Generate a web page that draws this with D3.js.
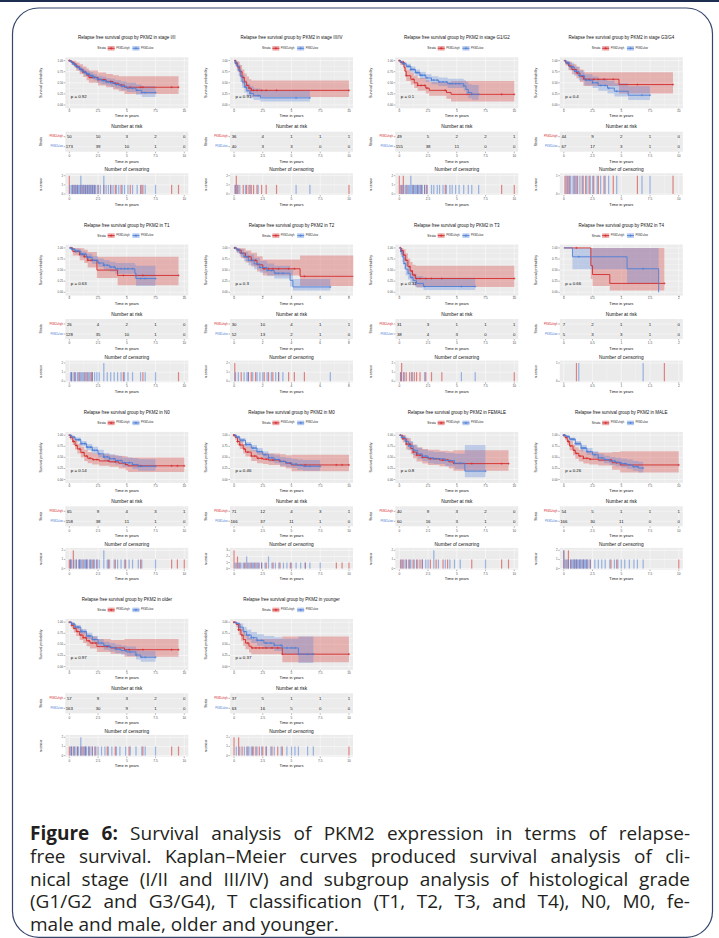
<!DOCTYPE html>
<html><head><meta charset="utf-8">
<script src="https://cdn.jsdelivr.net/npm/d3@7/dist/d3.min.js"></script>
<style>body{margin:0;background:#fff}svg{display:block}</style>
</head><body><svg id="c" width="719" height="938"></svg>
<script>
const titles = [
  "Relapse free survival group by PKM2 in stage I/II",
  "Relapse free survival group by PKM2 in stage III/IV",
  "Relapse free survival group by PKM2 in stage G1/G2",
  "Relapse free survival group by PKM2 in stage G3/G4",
  "Relapse free survival group by PKM2 in T1",
  "Relapse free survival group by PKM2 in T2",
  "Relapse free survival group by PKM2 in T3",
  "Relapse free survival group by PKM2 in T4",
  "Relapse free survival group by PKM2 in N0",
  "Relapse free survival group by PKM2 in M0",
  "Relapse free survival group by PKM2 in FEMALE",
  "Relapse free survival group by PKM2 in MALE",
  "Relapse free survival group by PKM2 in older",
  "Relapse free survival group by PKM2 in younger"
];
const strataLabels = ["PKM2=high", "PKM2=low"];
const pValues = ["0.92","0.91","0.1","0.4","0.63","0.3","0.31","0.66","0.14","0.46","0.8","0.26","0.97","0.37"];
const T10 = [0, 2.5, 5, 7.5, 10];
const xTicks = [T10, T10, T10, T10, T10, [0,2,4,6,8], T10, [0,0.5,1,1.5,2], T10, T10, T10, T10, T10, T10];
const riskHigh = [[50,10,3,2,0],[36,4,1,1,1],[49,5,2,2,1],[44,9,2,1,0],[26,4,2,1,0],[30,10,4,1,1],[31,3,1,1,1],[7,2,1,1,0],[65,9,4,3,1],[71,12,4,3,1],[40,9,3,2,0],[54,5,1,1,1],[57,9,3,2,0],[37,5,1,1,1]];
const riskLow  = [[173,39,10,1,0],[40,3,3,0,0],[155,38,11,0,0],[67,17,3,1,0],[128,35,10,1,0],[52,13,2,1,0],[38,4,3,0,0],[5,3,3,1,0],[158,38,11,1,0],[166,37,11,1,0],[60,16,3,1,0],[166,30,11,0,0],[163,30,9,1,0],[63,16,5,0,0]];
const censorMax = [2,2,2,1,2,2,2,1,2,3,2,2,2,2];
const highEnd = [9.5,10,10,9.5,9.5,8.3,10,1.75,10,10,9.5,10,9.5,10];
const lowEnd  = [7.5,6.6,6.9,7.5,7.5,6.7,6.6,1.65,7.5,7.5,7.5,6.9,7.5,6.9];
// steps: [time, survival, lower CI, upper CI]
const highSteps = [
  [[0,1,1,1],[0.2,0.96,0.9,1],[0.4,0.92,0.85,1],[0.6,0.86,0.77,0.96],[0.9,0.8,0.7,0.92],[1.2,0.74,0.63,0.87],[1.5,0.68,0.56,0.82],[1.7,0.62,0.5,0.78],[2.5,0.57,0.44,0.73],[3.2,0.53,0.4,0.7],[3.8,0.49,0.35,0.67],[4.3,0.45,0.31,0.65],[4.8,0.4,0.25,0.65]],
  [[0,1,1,1],[0.15,0.94,0.87,1],[0.3,0.86,0.75,0.98],[0.5,0.75,0.62,0.9],[0.7,0.62,0.48,0.8],[0.9,0.52,0.38,0.71],[1.1,0.44,0.3,0.64],[1.3,0.38,0.24,0.58],[1.5,0.33,0.18,0.55]],
  [[0,1,1,1],[0.1,0.96,0.9,1],[0.4,0.85,0.76,0.96],[0.5,0.76,0.65,0.89],[0.6,0.66,0.54,0.8],[1.0,0.58,0.46,0.73],[1.3,0.5,0.38,0.66],[1.6,0.44,0.32,0.61],[2.3,0.38,0.26,0.56],[2.6,0.33,0.21,0.52],[4.1,0.28,0.14,0.52],[4.5,0.24,0.08,0.54]],
  [[0,1,1,1],[0.15,0.95,0.89,1],[0.4,0.88,0.79,0.98],[0.7,0.8,0.69,0.92],[1.1,0.72,0.6,0.86],[1.4,0.65,0.52,0.8],[1.7,0.58,0.43,0.74],[4.8,0.46,0.26,0.74]],
  [[0,1,1,1],[0.3,0.92,0.83,1],[0.9,0.85,0.72,0.99],[1.3,0.8,0.66,0.96],[1.6,0.72,0.56,0.91],[2.4,0.5,0.32,0.8],[4.2,0.38,0.16,0.8]],
  [[0,1,1,1],[0.2,0.95,0.88,1],[0.5,0.88,0.77,0.99],[0.8,0.8,0.67,0.94],[1.2,0.72,0.58,0.89],[1.6,0.62,0.47,0.81],[2.0,0.53,0.38,0.74],[4.6,0.36,0.14,0.83]],
  [[0,1,1,1],[0.15,0.94,0.86,1],[0.35,0.84,0.72,0.97],[0.55,0.72,0.58,0.88],[0.75,0.58,0.43,0.76],[0.95,0.48,0.33,0.68],[1.15,0.39,0.25,0.62],[1.4,0.31,0.12,0.6]],
  [[0,1,1,1],[0.47,0.6,0.3,1],[0.5,0.4,0.14,1],[0.8,0.2,0.04,1]],
  [[0,1,1,1],[0.1,0.95,0.9,1],[0.3,0.86,0.78,0.95],[0.5,0.77,0.68,0.88],[0.7,0.69,0.59,0.81],[1.0,0.61,0.5,0.74],[1.3,0.53,0.42,0.67],[1.6,0.48,0.37,0.62],[2.0,0.45,0.34,0.59],[2.6,0.42,0.31,0.57],[3.5,0.4,0.29,0.55],[4.3,0.37,0.25,0.53],[4.9,0.34,0.21,0.52],[5.1,0.31,0.17,0.5]],
  [[0,1,1,1],[0.1,0.95,0.9,1],[0.3,0.86,0.78,0.94],[0.5,0.78,0.69,0.88],[0.8,0.69,0.59,0.8],[1.0,0.62,0.52,0.74],[1.5,0.53,0.42,0.66],[2.0,0.48,0.37,0.62],[2.5,0.46,0.35,0.6],[3.0,0.44,0.33,0.59],[4.0,0.41,0.29,0.57],[4.5,0.37,0.25,0.55],[5.0,0.33,0.19,0.56]],
  [[0,1,1,1],[0.3,0.92,0.84,1],[0.6,0.8,0.68,0.93],[1.0,0.7,0.57,0.85],[1.2,0.62,0.48,0.79],[1.5,0.55,0.41,0.73],[2.0,0.5,0.36,0.69],[2.5,0.47,0.33,0.67],[3.5,0.44,0.3,0.65],[4.3,0.4,0.25,0.64],[4.7,0.36,0.2,0.66]],
  [[0,1,1,1],[0.1,0.95,0.9,1],[0.3,0.86,0.78,0.95],[0.5,0.76,0.66,0.87],[0.8,0.66,0.55,0.79],[1.0,0.59,0.47,0.73],[1.3,0.53,0.41,0.68],[1.7,0.48,0.36,0.64],[2.2,0.46,0.34,0.62],[3.0,0.44,0.32,0.61],[4.2,0.38,0.22,0.62],[4.9,0.33,0.16,0.64]],
  [[0,1,1,1],[0.2,0.93,0.87,1],[0.4,0.86,0.77,0.95],[0.6,0.79,0.69,0.9],[0.9,0.71,0.6,0.84],[1.2,0.65,0.53,0.78],[1.5,0.58,0.46,0.72],[1.8,0.53,0.41,0.68],[2.4,0.45,0.33,0.62],[3.6,0.42,0.29,0.6],[4.8,0.38,0.22,0.62]],
  [[0,1,1,1],[0.2,0.95,0.88,1],[0.4,0.83,0.72,0.96],[0.6,0.71,0.58,0.86],[0.8,0.61,0.47,0.78],[1.0,0.53,0.39,0.71],[1.3,0.46,0.32,0.65],[1.5,0.42,0.28,0.62],[4.2,0.28,0.1,0.68]]
];
const lowSteps = [
  [[0,1,1,1],[0.1,0.97,0.95,1],[0.3,0.93,0.89,0.97],[0.5,0.89,0.84,0.94],[0.7,0.85,0.8,0.9],[0.9,0.81,0.75,0.87],[1.1,0.77,0.71,0.84],[1.3,0.73,0.66,0.8],[1.5,0.7,0.63,0.77],[1.8,0.66,0.59,0.74],[2.1,0.62,0.55,0.7],[2.4,0.58,0.5,0.66],[2.8,0.55,0.47,0.64],[3.2,0.52,0.44,0.61],[3.6,0.5,0.41,0.59],[4.0,0.46,0.37,0.56],[4.5,0.42,0.33,0.53],[5.0,0.38,0.29,0.5],[5.8,0.33,0.23,0.46],[6.3,0.28,0.18,0.43]],
  [[0,1,1,1],[0.1,0.95,0.88,1],[0.25,0.88,0.78,0.98],[0.4,0.78,0.66,0.91],[0.55,0.65,0.52,0.8],[0.7,0.52,0.39,0.68],[0.9,0.4,0.28,0.56],[1.1,0.32,0.2,0.48],[1.4,0.26,0.15,0.42],[1.7,0.21,0.11,0.37],[2.3,0.16,0.08,0.33]],
  [[0,1,1,1],[0.1,0.97,0.94,1],[0.3,0.93,0.89,0.97],[0.6,0.87,0.82,0.93],[1.0,0.8,0.74,0.87],[1.4,0.73,0.66,0.8],[1.8,0.67,0.59,0.75],[2.3,0.61,0.52,0.69],[2.8,0.56,0.47,0.65],[3.4,0.52,0.43,0.62],[4.2,0.48,0.38,0.59],[5.6,0.43,0.32,0.56],[5.8,0.35,0.22,0.52],[6.0,0.28,0.15,0.47],[6.3,0.24,0.12,0.45]],
  [[0,1,1,1],[0.2,0.95,0.9,1],[0.5,0.86,0.78,0.95],[0.9,0.76,0.66,0.87],[1.3,0.66,0.55,0.78],[1.8,0.56,0.44,0.69],[2.5,0.5,0.38,0.64],[3.0,0.44,0.32,0.59],[3.8,0.38,0.26,0.54],[4.4,0.31,0.19,0.49],[5.6,0.22,0.11,0.42]],
  [[0,1,1,1],[0.2,0.97,0.94,1],[0.5,0.93,0.88,0.98],[1.0,0.86,0.8,0.92],[1.5,0.79,0.72,0.87],[2.0,0.72,0.64,0.81],[2.5,0.66,0.57,0.76],[3.0,0.61,0.51,0.72],[3.5,0.57,0.47,0.69],[4.0,0.53,0.42,0.66],[5.7,0.43,0.3,0.62],[5.8,0.31,0.14,0.6]],
  [[0,1,1,1],[0.15,0.96,0.91,1],[0.4,0.88,0.8,0.97],[0.7,0.8,0.7,0.91],[1.0,0.72,0.61,0.85],[1.4,0.64,0.52,0.78],[1.8,0.56,0.44,0.71],[2.3,0.49,0.37,0.65],[2.8,0.43,0.31,0.6],[3.9,0.27,0.13,0.52],[4.1,0.12,0.04,0.3]],
  [[0,1,1,1],[0.1,0.92,0.84,1],[0.25,0.8,0.68,0.93],[0.4,0.65,0.52,0.8],[0.55,0.52,0.38,0.68],[0.75,0.42,0.29,0.58],[0.95,0.33,0.21,0.49],[1.2,0.26,0.15,0.42],[1.5,0.2,0.1,0.36],[2.1,0.13,0.05,0.33]],
  [[0,1,1,1],[0.15,0.8,0.52,1],[1.1,0.53,0.2,1],[1.65,0,0,0]],
  [[0,1,1,1],[0.2,0.96,0.93,0.99],[0.5,0.9,0.86,0.95],[1.0,0.81,0.75,0.87],[1.5,0.73,0.66,0.8],[2.0,0.66,0.58,0.74],[2.5,0.58,0.5,0.67],[3.0,0.51,0.42,0.6],[3.5,0.47,0.38,0.57],[4.0,0.43,0.34,0.54],[4.6,0.38,0.29,0.5],[5.5,0.34,0.24,0.48],[6.0,0.3,0.2,0.46]],
  [[0,1,1,1],[0.2,0.96,0.93,0.99],[0.5,0.89,0.84,0.94],[1.0,0.79,0.73,0.85],[1.5,0.71,0.64,0.78],[2.0,0.63,0.56,0.71],[2.5,0.56,0.48,0.64],[3.0,0.49,0.41,0.58],[3.5,0.45,0.37,0.55],[4.0,0.41,0.32,0.51],[4.5,0.38,0.29,0.49],[5.0,0.35,0.26,0.47],[5.5,0.32,0.22,0.45],[6.0,0.3,0.2,0.44]],
  [[0,1,1,1],[0.2,0.95,0.9,1],[0.5,0.86,0.78,0.95],[0.8,0.76,0.66,0.87],[1.2,0.66,0.55,0.78],[1.6,0.58,0.47,0.71],[2.0,0.53,0.42,0.67],[2.5,0.49,0.37,0.64],[3.0,0.47,0.35,0.62],[4.0,0.43,0.3,0.6],[4.8,0.37,0.24,0.58],[5.7,0.19,0.05,0.78]],
  [[0,1,1,1],[0.2,0.97,0.94,1],[0.5,0.91,0.87,0.95],[1.0,0.81,0.75,0.87],[1.5,0.71,0.64,0.78],[2.0,0.63,0.56,0.71],[2.5,0.56,0.48,0.64],[3.0,0.49,0.41,0.58],[3.5,0.45,0.37,0.54],[4.0,0.42,0.33,0.51],[4.5,0.39,0.3,0.49],[5.0,0.36,0.27,0.47],[5.5,0.33,0.24,0.45],[6.0,0.29,0.2,0.42],[6.5,0.26,0.16,0.4]],
  [[0,1,1,1],[0.2,0.96,0.93,0.99],[0.5,0.89,0.84,0.94],[1.0,0.79,0.73,0.85],[1.5,0.69,0.62,0.76],[2.0,0.61,0.53,0.69],[2.5,0.53,0.45,0.62],[3.0,0.47,0.38,0.56],[3.5,0.43,0.34,0.53],[4.0,0.39,0.3,0.5],[4.5,0.36,0.27,0.47],[5.0,0.33,0.24,0.45],[5.8,0.26,0.16,0.39],[6.2,0.21,0.11,0.35]],
  [[0,1,1,1],[0.2,0.97,0.93,1],[0.5,0.89,0.81,0.97],[0.8,0.79,0.69,0.89],[1.1,0.71,0.6,0.83],[1.5,0.65,0.53,0.78],[2.0,0.59,0.47,0.73],[2.6,0.53,0.4,0.69],[3.5,0.48,0.35,0.66],[4.2,0.42,0.28,0.63],[5.6,0.28,0.08,0.68]]
];
const highCensor = [
  [0,0,0.3,0.5,0.7,1.0,1.2,1.4,1.6,1.8,2.0,2.2,2.5,3.0,3.6,4.0,4.5,5.3,6.2,6.4,8.9,9.5],
  [0.1,0.2,0.2,0.35,0.8,1.1,1.3,1.5,1.7,2.0,2.4,2.8,3.7,10],
  [0,0,0.2,0.35,0.35,0.6,1.2,1.6,1.9,2.2,2.4,4.0,8.9,10],
  [0.1,0.3,0.5,0.9,1.2,1.6,1.9,2.2,2.6,3.0,3.5,4.3,6.4,9.5],
  [0.2,0.5,0.9,1.3,1.6,1.9,2.0,4.7,6.4,9.5],
  [0.05,0.05,0.5,1.0,1.2,1.5,2.1,2.4,2.7,3.1,3.8,4.2,4.9],
  [0.1,0.2,0.2,0.4,0.6,0.9,1.1,1.3,1.5,1.8,2.3,2.8,3.7,10],
  [0.22,1.75],
  [0,0.1,0.35,0.35,0.6,0.9,1.2,1.5,1.8,2.1,2.4,3.4,4.0,4.9,6.2,8.9,9.4,10],
  [0,0,0,0.3,0.3,0.5,0.9,1.2,1.5,1.8,2.1,2.4,2.8,3.4,4.0,4.9,6.2,8.9,9.4,10],
  [0.1,0.3,0.6,0.9,1.2,1.5,1.8,2.0,2.7,3.2,3.8,4.2,6.3,8.9,9.5],
  [0,0,0.2,0.4,0.4,0.6,0.9,1.1,1.4,1.7,2.0,2.3,4.1,4.6,10],
  [0,0.2,0.4,0.7,1.0,1.2,1.4,1.7,2.0,2.3,3.3,4.0,5.2,6.4,8.9,9.5],
  [0,0,0.4,0.4,0.7,1.2,1.6,1.9,2.2,2.5,2.8,3.3,3.8,4.2,10]
];
const lowCensor = [
  [0.05,0.2,0.3,0.4,0.5,0.6,0.7,0.8,0.9,1.0,1.0,1.1,1.2,1.3,1.4,1.5,1.6,1.7,1.8,1.9,2.0,2.1,2.2,2.3,2.5,2.7,3.0,3.0,3.2,3.4,3.6,3.8,4.1,4.3,4.6,4.8,5.1,5.5,5.9,6.3,6.6,7.5],
  [0.1,0.3,0.5,1.0,1.4,2.1,5.4,6.6],
  [0.1,0.3,0.5,0.7,0.8,0.9,1.0,1.0,1.1,1.2,1.3,1.4,1.5,1.6,1.7,1.8,1.9,2.0,2.2,2.4,2.8,3.0,3.3,3.5,3.8,4.1,4.4,4.6,4.9,5.2,5.6,6.0,6.3,6.9],
  [0.2,0.4,0.6,0.8,1.0,1.1,1.4,1.7,2.0,2.3,2.5,2.9,3.2,3.6,3.9,4.6,6.8,7.5],
  [0.1,0.2,0.4,0.5,0.7,0.8,1.0,1.1,1.2,1.4,1.5,1.7,1.8,2.0,2.2,2.4,2.6,3.0,3.0,3.3,3.6,3.9,4.2,4.5,4.8,5.1,5.5,6.2,6.6,7.5],
  [0.1,0.3,0.7,0.9,1.0,1.3,1.6,1.8,2.0,2.3,2.6,2.9,3.1,3.4,6.7],
  [0.15,0.4,1.1,2.2,5.4,6.6],
  [0.26,1.38],
  [0.1,0.2,0.4,0.6,0.8,0.9,1.0,1.1,1.3,1.4,1.5,1.6,1.8,1.9,2.0,2.2,2.4,2.6,3.0,3.0,3.3,3.5,3.9,4.2,4.5,4.8,5.2,5.5,6.0,6.3,7.5],
  [0.1,0.2,0.4,0.6,0.8,1.0,1.1,1.1,1.3,1.4,1.6,1.7,1.9,2.0,2.2,2.4,2.7,3.0,3.0,3.3,3.6,3.9,4.3,4.6,5.0,5.4,5.8,6.2,6.6,7.5],
  [0.2,0.4,0.6,0.8,1.0,1.3,1.6,2.0,2.3,2.5,3.0,3.0,3.4,4.0,4.4,4.8,5.3,7.5],
  [0,0,0.1,0.3,0.4,0.6,0.7,0.8,0.9,1.0,1.1,1.2,1.3,1.4,1.5,1.6,1.7,1.8,1.9,2.0,2.1,2.3,2.7,3.0,3.3,3.6,4.0,4.4,4.7,5.0,5.3,5.7,6.1,6.4,6.9],
  [0.1,0.2,0.4,0.5,0.7,0.8,1.0,1.0,1.1,1.3,1.4,1.5,1.7,1.8,2.0,2.2,2.5,2.8,3.1,3.4,3.7,4.1,4.4,4.9,5.3,5.8,6.3,6.6,7.5],
  [0.2,0.5,0.9,1.1,1.3,1.5,1.7,2.0,2.4,2.8,3.2,3.5,4.1,4.6,5.0,5.3,5.6,6.4,6.9]
];
const captionLines = [
  "Figure 6: Survival analysis of PKM2 expression in terms of relapse-",
  "free survival. Kaplan–Meier curves produced survival analysis of cli-",
  "nical stage (I/II and III/IV) and subgroup analysis of histological grade",
  "(G1/G2 and G3/G4), T classification (T1, T2, T3, and T4), N0, M0, fe-",
  "male and male, older and younger."
];

const RED = "#D42A2A", BLUE = "#4F7FD8", PANEL = "#EBEBEB", FONT = "'Liberation Sans', Arial, sans-serif";
const colLeft = [65.3, 230, 395.3, 559.8], rowTop = [37.7, 225, 412.3, 599.3], PW = 123;

const svg = d3.select("#c");
svg.append("rect").attr("width", 719).attr("height", 938).attr("fill", "#fff");
svg.append("rect").attr("x", 0).attr("y", 0).attr("width", 719).attr("height", 2).attr("fill", "#1d2d50");
svg.append("rect").attr("x", 12.5).attr("y", 8).attr("width", 700).attr("height", 929.3).attr("rx", 26)
  .attr("fill", "none").attr("stroke", "#34466b").attr("stroke-width", 1.2);

function txt(g, x, y, s, size, anchor, fill, rot) {
  const t = g.append("text").attr("x", x).attr("y", y).attr("font-family", FONT)
    .attr("font-size", size).attr("text-anchor", anchor || "middle").attr("fill", fill || "#000")
    .attr("dominant-baseline", "central").text(s);
  if (rot) t.attr("transform", `rotate(-90,${x},${y})`);
  return t;
}
function stepAt(steps, t) { let s = steps[0]; for (const st of steps) if (st[0] <= t) s = st; return s; }

titles.forEach((title, i) => {
  const L = colLeft[i % 4], T = rowTop[Math.floor(i / 4)], R = L + PW, cx = (L + R) / 2;
  const ticks = xTicks[i];
  const span = ticks[ticks.length - 1] - ticks[0], pad = span * 0.035;
  const x = d3.scaleLinear().domain([ticks[0] - pad, ticks[ticks.length - 1] + pad]).range([L, R]);
  const g = svg.append("g");
  const fmt = v => String(v);
  const minors = ticks.slice(1).map((v, k) => (v + ticks[k]) / 2);

  txt(g, cx, T, title, 4.5, "middle", "#111");
  const lg = g.append("g");
  let p = txt(lg, 0, 0, "Strata", 3.2, "start", "#222").node().getComputedTextLength() + 1.8;
  [[RED, strataLabels[0]], [BLUE, strataLabels[1]]].forEach(([c, lab]) => {
    lg.append("rect").attr("x", p).attr("y", -2.3).attr("width", 7).attr("height", 4.6).attr("fill", c).attr("fill-opacity", 0.4);
    lg.append("line").attr("x1", p).attr("x2", p + 7).attr("y1", 0).attr("y2", 0).attr("stroke", c).attr("stroke-width", 0.9);
    lg.append("path").attr("d", `M${p + 2.3},0h2.4M${p + 3.5},-1.2v2.4`).attr("stroke", c).attr("stroke-width", 0.7);
    p += 8.5;
    p += txt(lg, p, 0, lab, 2.6, "start", "#333").node().getComputedTextLength() + 2.8;
  });
  lg.attr("transform", `translate(${cx - p / 2},${T + 10.6})`);

  // ---- survival plot ----
  const top = T + 19.6, bot = T + 70.6;
  const y = d3.scaleLinear().domain([-0.075, 1.075]).range([bot, top]);
  g.append("rect").attr("x", L).attr("y", top).attr("width", PW).attr("height", bot - top).attr("fill", PANEL);
  [0.125, 0.375, 0.625, 0.875].forEach(v => g.append("line").attr("x1", L).attr("x2", R).attr("y1", y(v)).attr("y2", y(v)).attr("stroke", "#fff").attr("stroke-width", 0.25));
  minors.forEach(v => g.append("line").attr("x1", x(v)).attr("x2", x(v)).attr("y1", top).attr("y2", bot).attr("stroke", "#fff").attr("stroke-width", 0.25));
  [0, 0.25, 0.5, 0.75, 1].forEach(v => {
    g.append("line").attr("x1", L).attr("x2", R).attr("y1", y(v)).attr("y2", y(v)).attr("stroke", "#fff").attr("stroke-width", 0.5);
    g.append("line").attr("x1", L - 1.6).attr("x2", L).attr("y1", y(v)).attr("y2", y(v)).attr("stroke", "#444").attr("stroke-width", 0.4);
    txt(g, L - 2.3, y(v), v.toFixed(2), 2.8, "end", "#4d4d4d");
  });
  ticks.forEach(v => {
    g.append("line").attr("x1", x(v)).attr("x2", x(v)).attr("y1", top).attr("y2", bot).attr("stroke", "#fff").attr("stroke-width", 0.5);
    g.append("line").attr("x1", x(v)).attr("x2", x(v)).attr("y1", bot).attr("y2", bot + 1.5).attr("stroke", "#444").attr("stroke-width", 0.4);
    txt(g, x(v), T + 73.4, fmt(v), 3.2, "middle", "#4d4d4d");
  });
  txt(g, cx, T + 78.2, "Time in years", 4.0, "middle", "#111");
  txt(g, L - 24, (top + bot) / 2, "Survival probability", 3.6, "middle", "#111", true);

  const groups = [
    { steps: highSteps[i], end: highEnd[i], cens: highCensor[i], color: RED },
    { steps: lowSteps[i], end: lowEnd[i], cens: lowCensor[i], color: BLUE }
  ];
  groups.forEach(gr => {
    const last = gr.steps[gr.steps.length - 1];
    const pts = gr.steps.concat([[gr.end, last[1], last[2], last[3]]]);
    const area = d3.area().x(d => x(d[0])).y0(d => y(d[2])).y1(d => y(d[3])).curve(d3.curveStepAfter);
    g.append("path").attr("d", area(pts)).attr("fill", gr.color).attr("fill-opacity", 0.3);
  });
  groups.forEach(gr => {
    const last = gr.steps[gr.steps.length - 1];
    const pts = gr.steps.concat([[gr.end, last[1], last[2], last[3]]]);
    const line = d3.line().x(d => x(d[0])).y(d => y(d[1])).curve(d3.curveStepAfter);
    g.append("path").attr("d", line(pts)).attr("fill", "none").attr("stroke", gr.color).attr("stroke-width", 0.9);
    gr.cens.forEach(t => {
      const px = x(t), py = y(stepAt(gr.steps, t)[1]);
      g.append("path").attr("d", `M${px - 1.1},${py}h2.2M${px},${py - 1.1}v2.2`).attr("stroke", gr.color).attr("stroke-width", 0.55);
    });
  });
  txt(g, x(0) + 1.4, y(0.2), "p = " + pValues[i], 4.4, "start", "#111");

  // ---- risk table ----
  txt(g, cx, T + 89, "Number at risk", 4.8, "middle", "#111");
  const rt = T + 94, rb = T + 114;
  g.append("rect").attr("x", L).attr("y", rt).attr("width", PW).attr("height", rb - rt).attr("fill", PANEL);
  ticks.forEach(v => {
    g.append("line").attr("x1", x(v)).attr("x2", x(v)).attr("y1", rt).attr("y2", rb).attr("stroke", "#fff").attr("stroke-width", 0.4);
    g.append("line").attr("x1", x(v)).attr("x2", x(v)).attr("y1", rb).attr("y2", rb + 1.5).attr("stroke", "#444").attr("stroke-width", 0.4);
    txt(g, x(v), T + 118.3, fmt(v), 3.2, "middle", "#4d4d4d");
  });
  [[riskHigh[i], T + 99, RED, strataLabels[0]], [riskLow[i], T + 109, BLUE, strataLabels[1]]].forEach(([vals, ry, c, lab]) => {
    g.append("line").attr("x1", L).attr("x2", R).attr("y1", ry).attr("y2", ry).attr("stroke", "#fff").attr("stroke-width", 0.4);
    g.append("line").attr("x1", L - 1.6).attr("x2", L).attr("y1", ry).attr("y2", ry).attr("stroke", "#444").attr("stroke-width", 0.4);
    txt(g, L - 2.3, ry, lab, 2.6, "end", c);
    vals.forEach((v, k) => txt(g, x(ticks[k]), ry, String(v), 4.3, "middle", "#111"));
  });
  txt(g, cx, T + 123.3, "Time in years", 4.0, "middle", "#111");
  txt(g, L - 24, (rt + rb) / 2, "Strata", 3.4, "middle", "#111", true);

  // ---- censoring plot ----
  txt(g, cx, T + 132, "Number of censoring", 4.8, "middle", "#111");
  const ct = T + 135.6, cb = T + 157.3;
  const yc = d3.scaleLinear().domain([0, censorMax[i]]).range([T + 156.3, T + 138]);
  g.append("rect").attr("x", L).attr("y", ct).attr("width", PW).attr("height", cb - ct).attr("fill", PANEL);
  minors.forEach(v => g.append("line").attr("x1", x(v)).attr("x2", x(v)).attr("y1", ct).attr("y2", cb).attr("stroke", "#fff").attr("stroke-width", 0.25));
  ticks.forEach(v => {
    g.append("line").attr("x1", x(v)).attr("x2", x(v)).attr("y1", ct).attr("y2", cb).attr("stroke", "#fff").attr("stroke-width", 0.5);
    g.append("line").attr("x1", x(v)).attr("x2", x(v)).attr("y1", cb).attr("y2", cb + 1.5).attr("stroke", "#444").attr("stroke-width", 0.4);
    txt(g, x(v), T + 161.3, fmt(v), 3.2, "middle", "#4d4d4d");
  });
  d3.range(0, censorMax[i] + 1).forEach(v => {
    g.append("line").attr("x1", L).attr("x2", R).attr("y1", yc(v)).attr("y2", yc(v)).attr("stroke", "#fff").attr("stroke-width", 0.5);
    g.append("line").attr("x1", L - 1.6).attr("x2", L).attr("y1", yc(v)).attr("y2", yc(v)).attr("stroke", "#444").attr("stroke-width", 0.4);
    txt(g, L - 2.3, yc(v), String(v), 2.8, "end", "#4d4d4d");
  });
  groups.forEach(gr => {
    d3.rollups(gr.cens, v => v.length, d => d).forEach(([t, n]) => {
      g.append("rect").attr("x", x(t) - 0.6).attr("width", 1.2).attr("y", yc(n)).attr("height", yc(0) - yc(n))
        .attr("fill", gr.color).attr("fill-opacity", 0.55);
    });
  });
  txt(g, cx, T + 166.3, "Time in years", 4.0, "middle", "#111");
  txt(g, L - 24, (ct + cb) / 2, "n.censor", 3.4, "middle", "#111", true);
});

// ---- caption (justified) ----
const capL = 30, capR = 690, capSize = 19, capLead = 22.8, capY0 = 840;
const cg = svg.append("g").attr("font-family", "'Open Sans', 'Noto Sans', sans-serif").attr("font-size", capSize).attr("fill", "#231f20");
const spaceW = (() => { const t = cg.append("text").text("a a"); const w1 = t.node().getComputedTextLength(); t.text("aa"); const w2 = t.node().getComputedTextLength(); t.remove(); return w1 - w2; })();
captionLines.forEach((line, li) => {
  const words = line.split(" ");
  const yy = capY0 + li * capLead;
  const nodes = words.map((w, k) => {
    const t = cg.append("text").attr("y", yy).text(w);
    if (li === 0 && k < 2) t.attr("font-weight", "bold");
    return t;
  });
  const widths = nodes.map(n => n.node().getComputedTextLength());
  const total = d3.sum(widths);
  const gap = li === captionLines.length - 1 ? spaceW : (capR - capL - total) / (words.length - 1);
  let xx = capL;
  nodes.forEach((n, k) => { n.attr("x", xx); xx += widths[k] + gap; });
});
</script></body></html>
